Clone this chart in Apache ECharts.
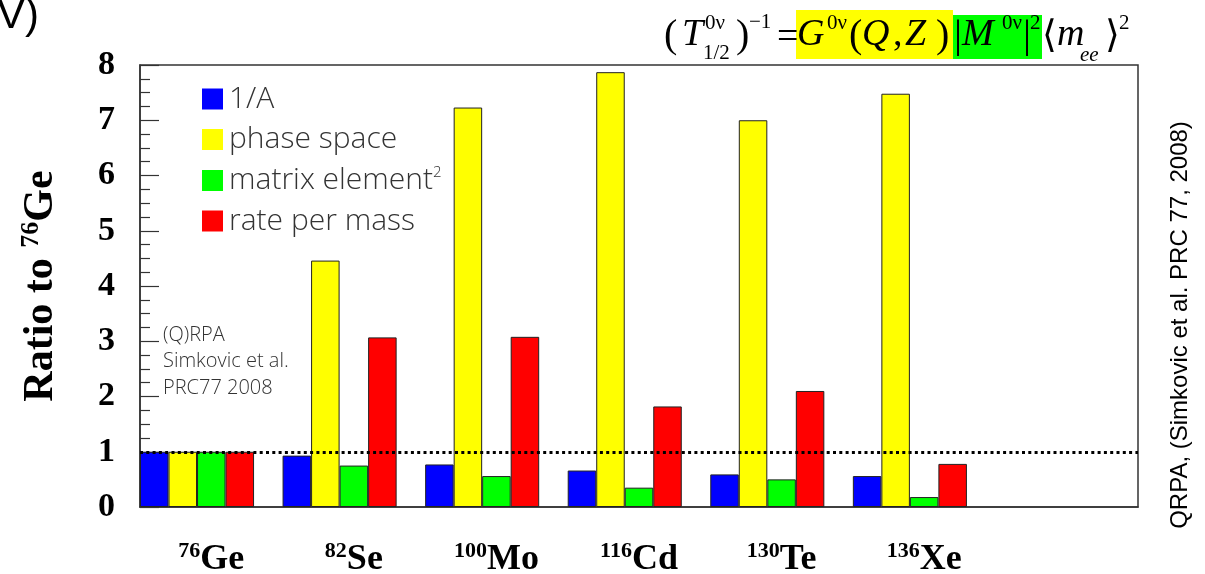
<!DOCTYPE html>
<html>
<head>
<meta charset="utf-8">
<script src="https://cdn.jsdelivr.net/npm/echarts@6/dist/echarts.min.js"></script>
<style>html,body{margin:0;padding:0;background:#fff;}#c{width:1205px;height:574px;}</style>
</head>
<body>
<div id="c"></div>
<script>
const massNumbers = ['76', '82', '100', '116', '130', '136', ''];
const elements = ['Ge', 'Se', 'Mo', 'Cd', 'Te', 'Xe', ''];
const seriesNames = ['1/A', 'phase space', 'matrix element2', 'rate per mass'];
const inverseA = [1.00, 0.93, 0.77, 0.66, 0.59, 0.56];
const phaseSpace = [1.00, 4.46, 7.23, 7.87, 7.00, 7.48];
const matrixElement2 = [1.00, 0.75, 0.56, 0.35, 0.50, 0.18];
const ratePerMass = [1.00, 3.07, 3.08, 1.82, 2.10, 0.78];
const referenceRatio = 1;
const yTicks = [0, 1, 2, 3, 4, 5, 6, 7, 8];
const seriesColors = ['#0000ff', '#ffff00', '#00ff00', '#ff0000'];

const categories = elements.map((e, i) => massNumbers[i] + e);
const SERIF = "'Liberation Serif', 'Times New Roman', serif";
const THIN = "'Open Sans', 'DejaVu Sans', sans-serif";

const chart = echarts.init(document.getElementById('c'));

function bar(name, data, color, z) {
  return {
    name: name, type: 'bar', data: data, z: z,
    itemStyle: { color: color, borderColor: '#222', borderWidth: 1 },
    emphasis: { disabled: true }
  };
}

function ft(text, x, y, size, italic) {
  return {
    type: 'text', x: x, y: y, z: 20,
    style: {
      text: text, fill: '#000', fontSize: size, fontFamily: SERIF,
      fontStyle: italic ? 'italic' : 'normal',
      align: 'left', verticalAlign: 'middle'
    }
  };
}

const series = [
  bar(seriesNames[0], inverseA, seriesColors[0], 2),
  bar(seriesNames[1], phaseSpace, seriesColors[1], 2),
  bar(seriesNames[2], matrixElement2, seriesColors[2], 2),
  bar(seriesNames[3], ratePerMass, seriesColors[3], 2),
  {
    name: 'spacer', type: 'bar', data: categories.map(() => null), z: 5,
    markLine: {
      silent: true, symbol: ['none', 'none'], label: { show: false },
      lineStyle: { color: '#000', type: [3, 3.3], width: 3 },
      data: [{ yAxis: referenceRatio }]
    }
  }
];

const SUP = 21, MAIN = 38, PAR = 40;
const option = {
  animation: false,
  backgroundColor: '#fff',
  grid: { left: 140, right: 67, top: 65, bottom: 67, outerBoundsMode: 'none', containLabel: false, show: true, borderColor: '#333', borderWidth: 1.5, backgroundColor: 'transparent' },
  legend: {
    data: seriesNames, orient: 'vertical', left: 197, top: 79,
    itemWidth: 21, itemHeight: 21, itemGap: 10.5, icon: 'rect',
    itemStyle: { borderWidth: 0 },
    formatter: n => n === seriesNames[2] ? 'matrix element{sup|2}' : n,
    textStyle: {
      fontSize: 30, fontFamily: THIN, fontWeight: 300, color: '#333', padding: [0, 0, 0, 1],
      rich: { sup: { fontSize: 15, fontFamily: THIN, fontWeight: 300, color: '#333', padding: [0, 0, 16, 0] } }
    }
  },
  xAxis: {
    type: 'category', data: categories,
    axisLine: { show: true, lineStyle: { color: '#333', width: 1.5 } },
    axisTick: { show: false },
    axisLabel: {
      interval: 0, margin: 33,
      formatter: (v, i) => elements[i] ? '{sup|' + massNumbers[i] + '}{el|' + elements[i] + '}' : '',
      rich: {
        sup: { fontSize: 22, fontFamily: SERIF, fontWeight: 'bold', color: '#000', padding: [0, 0, 18, 0] },
        el: { fontSize: 36, fontFamily: SERIF, fontWeight: 'bold', color: '#000' }
      }
    },
    splitLine: { show: false }
  },
  yAxis: {
    type: 'value', min: yTicks[0], max: yTicks[yTicks.length - 1], interval: 1,
    axisLine: { show: true, lineStyle: { color: '#333', width: 1.5 } },
    axisTick: { show: true, inside: true, length: 19, lineStyle: { color: '#333', width: 1.2 } },
    minorTick: { show: true, splitNumber: 4, length: 10, lineStyle: { color: '#333', width: 1.2 } },
    splitLine: { show: false },
    axisLabel: { margin: 25, fontSize: 34, fontFamily: SERIF, fontWeight: 'bold', color: '#000' },
    name: '{a|Ratio to }{sup|76}{a|Ge}',
    nameLocation: 'middle', nameGap: 76, nameRotate: 90,
    nameTextStyle: {
      rich: {
        a: { fontSize: 42, fontFamily: SERIF, fontWeight: 'bold', color: '#000' },
        sup: { fontSize: 26, fontFamily: SERIF, fontWeight: 'bold', color: '#000', padding: [0, 0, 20, 0] }
      }
    }
  },
  series: series.map(s => Object.assign(s, { barGap: '0%', barCategoryGap: '0%' })),
  graphic: [
    { type: 'text', x: -3, y: 16, style: { text: 'V)', fill: '#000', fontSize: 42, fontFamily: "'Liberation Sans', Arial, sans-serif", align: 'left', verticalAlign: 'middle' } },
    { type: 'text', x: 1180, y: 325, rotation: Math.PI / 2, style: { text: 'QRPA, (Simkovic et al. PRC 77, 2008)', fill: '#000', fontSize: 24, fontFamily: "'Liberation Sans', Arial, sans-serif", align: 'center', verticalAlign: 'middle' } },
    { type: 'text', x: 163, y: 322, z: 20, style: { text: '(Q)RPA\nSimkovic et al.\nPRC77 2008', fill: '#333', fontSize: 20, fontFamily: THIN, fontWeight: 300, lineHeight: 26.5, align: 'left', verticalAlign: 'top' } },
    { type: 'rect', shape: { x: 796, y: 10, width: 157, height: 49 }, style: { fill: '#ffff00' }, z: 10 },
    { type: 'rect', shape: { x: 953, y: 15, width: 89, height: 44 }, style: { fill: '#00ff00' }, z: 10 },
    ft('(', 664, 36, PAR, false),
    ft('T', 682, 35, MAIN, true),
    ft('0\u03BD', 705, 23, SUP, false),
    ft('1/2', 703, 53, SUP, false),
    ft(')', 736, 36, PAR, false),
    ft('\u22121', 749, 22, SUP, false),
    ft('=', 777, 38, MAIN, false),
    ft('G', 797, 35, MAIN, true),
    ft('0\u03BD', 827, 23, SUP, false),
    ft('(', 849, 36, PAR, false),
    ft('Q', 862, 35, MAIN, true),
    ft(',', 893, 35, MAIN, false),
    ft('Z', 905, 35, MAIN, true),
    ft(')', 936, 36, PAR, false),
    ft('|', 954, 36, PAR, false),
    ft('M', 962, 35, MAIN, true),
    ft('0\u03BD', 1002, 23, SUP, false),
    ft('|', 1023, 36, PAR, false),
    ft('2', 1030, 23, SUP, false),
    ft('\u27E8', 1042, 37, MAIN, false),
    ft('m', 1057, 35, MAIN, true),
    ft('ee', 1080, 55, SUP, true),
    ft('\u27E9', 1105, 37, MAIN, false),
    ft('2', 1119, 23, SUP, false)
  ]
};
chart.setOption(option);
</script>
</body>
</html>
